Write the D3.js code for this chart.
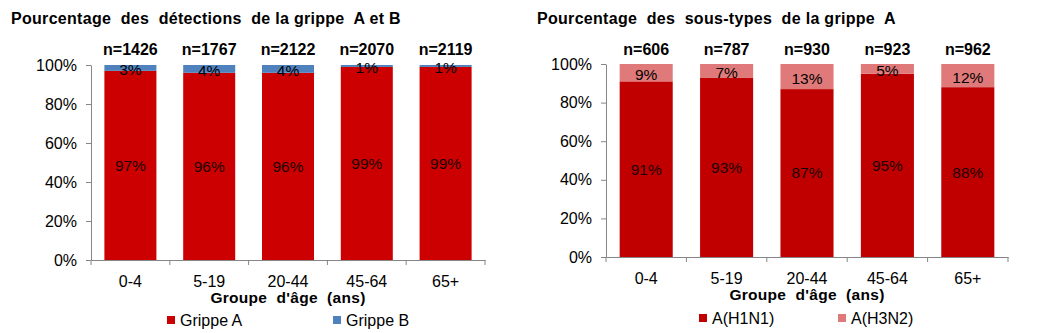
<!DOCTYPE html>
<html><head><meta charset="utf-8">
<script src="https://cdn.jsdelivr.net/npm/d3@7"></script>
<style>body{margin:0;background:#fff;}svg{display:block;font-family:Arial,"Liberation Sans",sans-serif;}</style>
</head><body><svg id="c" width="1048" height="333"></svg>
<script>
const categories = ["0-4","5-19","20-44","45-64","65+"];
const nLeft = ["n=1426","n=1767","n=2122","n=2070","n=2119"];
const grippeA = [97,96,96,99,99];
const grippeB = [3,4,4,1,1];
const nRight = ["n=606","n=787","n=930","n=923","n=962"];
const h1n1 = [91,93,87,95,88];
const h3n2 = [9,7,13,5,12];
const yTicks = [0,20,40,60,80,100];

const svg = d3.select("#c");
const FF = "Arial,'Liberation Sans',sans-serif";

function panel(cfg){
  const g = svg.append("g");
  const x = d3.scaleBand().domain(categories).range([cfg.x0,cfg.x1]).paddingInner(0.34).paddingOuter(0.17);
  const y = d3.scaleLinear().domain([0,100]).range([cfg.y0,cfg.yTop]);
  const axisColor = "#868686";
  g.append("text").attr("x",cfg.titleX).attr("y",24).attr("font-size",16).attr("font-weight","bold").attr("fill","#000")
    .attr("letter-spacing",0.3).attr("xml:space","preserve").text(cfg.title);
  const ya = g.append("g").attr("transform",`translate(${cfg.x0},0)`).call(d3.axisLeft(y).tickValues(yTicks).tickFormat(d=>d+"%").tickSize(5).tickSizeOuter(0));
  ya.select(".domain").attr("stroke",axisColor);
  ya.selectAll(".tick line").attr("stroke",axisColor);
  ya.selectAll(".tick text").attr("font-size",16).attr("fill","#000").attr("x",-14).attr("font-family",FF);
  categories.forEach((c,i)=>{
    const a = cfg.s1[i], b = cfg.s2[i];
    g.append("rect").attr("x",x(c)).attr("width",x.bandwidth()).attr("y",y(a)).attr("height",y(0)-y(a)).attr("fill",cfg.c1);
    g.append("rect").attr("x",x(c)).attr("width",x.bandwidth()).attr("y",y(a+b)).attr("height",y(a)-y(a+b)).attr("fill",cfg.c2);
    const cx = x(c)+x.bandwidth()/2;
    g.append("text").attr("x",cx).attr("y",(y(0)+y(a))/2).attr("dy","0.35em").attr("text-anchor","middle").attr("font-size",15.5).attr("fill","#1a0000").text(a+"%");
    g.append("text").attr("x",cx).attr("y",(y(a)+y(a+b))/2+2).attr("dy","0.35em").attr("text-anchor","middle").attr("font-size",15.5).attr("fill","#000").text(b+"%");
    g.append("text").attr("x",cx).attr("y",55).attr("text-anchor","middle").attr("font-size",16).attr("font-weight","bold").attr("fill","#000").text(cfg.n[i]);
  });
  const xa = g.append("g").attr("transform",`translate(0,${cfg.y0})`).call(d3.axisBottom(x).tickSize(0).tickSizeOuter(0));
  xa.select(".domain").attr("stroke",axisColor);
  xa.selectAll(".tick text").attr("font-size",16).attr("fill","#000").attr("dy","0").attr("y",cfg.labelY-cfg.y0).attr("font-family",FF);
  d3.range(6).forEach(k=>{
    const px = cfg.x0 + k*(cfg.x1-cfg.x0)/5;
    xa.append("line").attr("x1",px).attr("x2",px).attr("y1",0).attr("y2",5).attr("stroke",axisColor);
  });
  g.append("text").attr("x",(cfg.x0+cfg.x1)/2).attr("y",cfg.labelY+16).attr("text-anchor","middle").attr("font-size",15.5).attr("font-weight","bold")
    .attr("letter-spacing",0.3).attr("xml:space","preserve").text("Groupe  d'âge  (ans)");
  cfg.legend.forEach((l,i)=>{
    g.append("rect").attr("x",l.x).attr("y",cfg.legY-4).attr("width",8).attr("height",8).attr("fill",i===0?cfg.c1:cfg.c2);
    g.append("text").attr("x",l.x+13).attr("y",cfg.legY).attr("dy","0.35em").attr("font-size",16).attr("fill","#000").text(l.t);
  });
}

panel({x0:91,x1:485,y0:260,yTop:65,titleX:11,title:"Pourcentage  des  détections  de la grippe  A et B",
  s1:grippeA,s2:grippeB,c1:"#CC0000",c2:"#4F81BD",n:nLeft,labelY:287,legY:320,
  legend:[{x:167,t:"Grippe A"},{x:333,t:"Grippe B"}]});
panel({x0:606,x1:1008,y0:257,yTop:64,titleX:537,title:"Pourcentage  des  sous-types  de la grippe  A",
  s1:h1n1,s2:h3n2,c1:"#C00000",c2:"#E07A7A",n:nRight,labelY:284,legY:318,
  legend:[{x:699,t:"A(H1N1)"},{x:838,t:"A(H3N2)"}]});
</script></body></html>
